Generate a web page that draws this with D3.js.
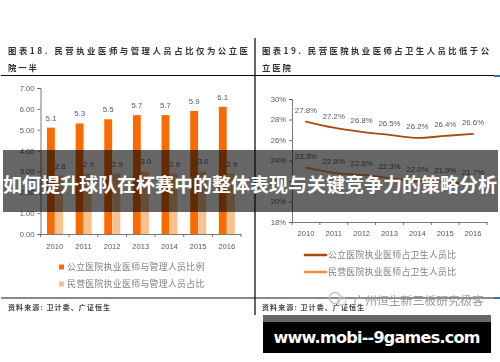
<!DOCTYPE html>
<html>
<head>
<meta charset="utf-8">
<script src="https://cdn.jsdelivr.net/npm/d3@7"></script>
<style>
html, body { margin: 0; padding: 0; background: #fff; overflow: hidden; }
text { font-family: "Noto Sans CJK SC", sans-serif; }
</style>
</head>
<body>
<div id="chart-area"></div>
<script>
var years = ["2010", "2011", "2012", "2013", "2014", "2015", "2016"];

// left chart
var publicRatio = [5.1, 5.3, 5.5, 5.7, 5.7, 5.9, 6.1];
var privateRatio = [2.8, 2.9, 2.9, 3.0, 2.9, 3.0, 2.9];
var barTicks = [0, 1, 2, 3, 4, 5, 6, 7];
var barSeries = ["公立医院执业医师与管理人员比例", "民营医院执业医师与管理人员占比"];

// right chart
var publicShare = [27.8, 27.2, 26.8, 26.5, 26.2, 26.4, 26.6];
var privateShare = [23.3, 22.8, 22.6, 22.3, 22.0, 21.9, 21.7];
var lineTicks = [18, 20, 22, 24, 26, 28, 30];
var lineSeries = ["公立医院执业医师占卫生人员比", "民营医院执业医师占卫生人员比"];

var headline = "如何提升球队在杯赛中的整体表现与关键竞争力的策略分析";
var site = "www.mobi--9games.com";

var ORANGE = "#f96b05", LIGHT = "#fbc08f", BROWN = "#a84b10", LINE2 = "#f58c3c";
var GREY = "#595959";

var svg = d3.select("#chart-area").append("svg")
	.attr("width", 500)
	.attr("height", 362)
	.style("display", "block");

svg.append("defs").append("filter")
	.attr("id", "soft")
	.append("feGaussianBlur")
	.attr("stdDeviation", 0.4);

var page = svg.append("g").attr("filter", "url(#soft)");

// frame lines
page.append("line").attr("x1", 1).attr("x2", 500).attr("y1", 75.5).attr("y2", 75.5)
	.attr("stroke", "#111").attr("stroke-width", 1.2);
page.append("line").attr("x1", 1).attr("x2", 500).attr("y1", 298).attr("y2", 298)
	.attr("stroke", "#111").attr("stroke-width", 1.2);
page.append("line").attr("x1", 255).attr("x2", 255).attr("y1", 38).attr("y2", 315)
	.attr("stroke", "#111").attr("stroke-width", 1.3);

// titles
function title(x, y, s, len) {
	var t = page.append("text")
		.attr("x", x).attr("y", y)
		.attr("font-size", 8.4)
		.attr("font-weight", 700)
		.attr("fill", "#333")
		.text(s);
	if (len) t.attr("textLength", len).attr("lengthAdjust", "spacing");
	else t.attr("letter-spacing", 1.9);
}
title(8, 54, "图表18.  民营执业医师与管理人员占比仅为公立医", 240);
title(8, 71, "院一半");
title(262, 54, "图表19.  民营医院执业医师占卫生人员比低于公", 227);
title(262, 71, "立医院");

function source(x) {
	page.append("text")
		.attr("x", x).attr("y", 310)
		.attr("font-size", 7)
		.attr("font-weight", 700)
		.attr("letter-spacing", 1.1)
		.attr("fill", "#444")
		.text("资料来源: 卫计委、广证恒生");
}
source(8);
source(262);

// left chart: bars
var x0 = d3.scaleBand().domain(years).range([40.5, 241]);
var x1 = d3.scaleBand().domain([0, 1]).range([6.5, 22.5]).paddingInner(0.04);
var yBar = d3.scaleLinear().domain([0, 7]).range([234, 88]);

var left = page.append("g");

function styleAxis(sel) {
	sel.select(".domain").attr("stroke", "#555").attr("stroke-width", 0.8);
	sel.selectAll(".tick line").attr("stroke", "#555").attr("stroke-width", 0.8);
	sel.selectAll("text").attr("fill", GREY).attr("font-size", 7.6)
		.attr("font-family", "Liberation Sans")
		.style("font-family", "'Liberation Sans', sans-serif");
}

left.append("g")
	.attr("transform", "translate(40.5,0)")
	.call(d3.axisLeft(yBar).tickValues(barTicks).tickSize(3).tickPadding(3).tickFormat(d3.format(".2f")))
	.call(styleAxis);

left.append("g")
	.attr("transform", "translate(0,234)")
	.call(d3.axisBottom(x0).tickSize(0).tickPadding(10))
	.call(styleAxis);

years.concat("end").forEach(function(d, i) {
	var px = x0.range()[0] + i * x0.step();
	left.append("line").attr("x1", px).attr("x2", px).attr("y1", 234).attr("y2", 237)
		.attr("stroke", "#555").attr("stroke-width", 0.8);
});

[publicRatio, privateRatio].forEach(function(values, s) {
	left.selectAll(".bar" + s).data(values).enter().append("rect")
		.attr("class", "bar" + s)
		.attr("x", function(d, i) { return x0(years[i]) + x1(s); })
		.attr("width", x1.bandwidth())
		.attr("y", function(d) { return yBar(d); })
		.attr("height", function(d) { return yBar(0) - yBar(d); })
		.attr("fill", s === 0 ? ORANGE : LIGHT);
	left.selectAll(".lab" + s).data(values).enter().append("text")
		.attr("class", "lab" + s)
		.attr("x", function(d, i) { return x0(years[i]) + x1(s) + x1.bandwidth() / 2 + (s === 0 ? 0 : 1); })
		.attr("y", function(d) { return yBar(d) - 7; })
		.attr("text-anchor", "middle")
		.attr("font-size", 7.8)
		.style("font-family", "'Liberation Sans', sans-serif")
		.attr("fill", GREY)
		.text(d3.format(".1f"));
});

barSeries.forEach(function(name, i) {
	var ly = yBar(0) + 33 + i * 17;
	page.append("rect").attr("x", 59).attr("y", ly - 2.5).attr("width", 5).attr("height", 5)
		.attr("fill", i === 0 ? ORANGE : LIGHT);
	page.append("text").attr("x", 67).attr("y", ly + 3)
		.attr("font-size", 8.9).attr("letter-spacing", 0.3).attr("fill", "#808080").text(name);
});

// right chart: lines
var xLine = d3.scaleBand().domain(years).range([292, 487]);
var yLine = d3.scaleLinear().domain([18, 30]).range([222, 99]);

var right = page.append("g");

right.append("g")
	.attr("transform", "translate(292,0)")
	.call(d3.axisLeft(yLine).tickValues(lineTicks).tickSize(3).tickPadding(3).tickFormat(function(d) { return d + "%"; }))
	.call(styleAxis);

right.append("g")
	.attr("transform", "translate(0,222)")
	.call(d3.axisBottom(xLine).tickSize(0).tickPadding(9))
	.call(styleAxis);

years.concat("end").forEach(function(d, i) {
	var px = xLine.range()[0] + i * xLine.step();
	right.append("line").attr("x1", px).attr("x2", px).attr("y1", 222).attr("y2", 225)
		.attr("stroke", "#555").attr("stroke-width", 0.8);
});

var line = d3.line()
	.x(function(d, i) { return xLine(years[i]) + xLine.bandwidth() / 2; })
	.y(function(d) { return yLine(d); })
	.curve(d3.curveMonotoneX);

[publicShare, privateShare].forEach(function(values, s) {
	right.append("path")
		.attr("d", line(values))
		.attr("fill", "none")
		.attr("stroke", s === 0 ? BROWN : LINE2)
		.attr("stroke-width", 1.8)
		.attr("stroke-linecap", "round");
	right.selectAll(".lab" + s).data(values).enter().append("text")
		.attr("class", "lab" + s)
		.attr("x", function(d, i) { return xLine(years[i]) + xLine.bandwidth() / 2; })
		.attr("y", function(d) { return yLine(d) - 9; })
		.attr("text-anchor", "middle")
		.attr("font-size", 7.8)
		.style("font-family", "'Liberation Sans', sans-serif")
		.attr("fill", GREY)
		.text(function(d) { return d.toFixed(1) + "%"; });
});

lineSeries.forEach(function(name, i) {
	var ly = 255 + i * 17;
	page.append("line").attr("x1", 305).attr("x2", 326).attr("y1", ly).attr("y2", ly)
		.attr("stroke", i === 0 ? BROWN : LINE2).attr("stroke-width", 2.6).attr("stroke-linecap", "round");
	page.append("text").attr("x", 328).attr("y", ly + 3)
		.attr("font-size", 8.9).attr("letter-spacing", 0.3).attr("fill", "#808080").text(name);
});

// watermark
page.append("circle").attr("cx", 335).attr("cy", 298).attr("r", 5.5)
	.attr("fill", "none").attr("stroke", "#c4c4c4").attr("stroke-width", 1.5);
page.append("circle").attr("cx", 342).attr("cy", 301).attr("r", 4)
	.attr("fill", "none").attr("stroke", "#c4c4c4").attr("stroke-width", 1.2);
page.append("text").attr("x", 353).attr("y", 305)
	.attr("font-size", 11.9).attr("fill", "#999").text("广州恒生新三板研究极客");
page.append("rect").attr("x", 494).attr("y", 297).attr("width", 6).attr("height", 2).attr("fill", "#2e75b6");
page.append("rect").attr("x", 494).attr("y", 75).attr("width", 6).attr("height", 2).attr("fill", "#2e75b6");

// headline band
svg.append("rect").attr("x", 3).attr("y", 150).attr("width", 495).attr("height", 62)
	.attr("fill", "#000").attr("fill-opacity", 0.6);
svg.append("text")
	.attr("x", 250).attr("y", 192)
	.attr("text-anchor", "middle")
	.attr("font-size", 19)
	.attr("font-weight", 700)
	.attr("textLength", 494)
	.attr("lengthAdjust", "spacing")
	.attr("fill", "#fff")
	.text(headline);

// site box
svg.append("rect").attr("x", 263).attr("y", 315).attr("width", 228).attr("height", 7).attr("fill", "#666");
svg.append("rect").attr("x", 263).attr("y", 322).attr("width", 228).attr("height", 31).attr("fill", "#000");
svg.append("text")
	.attr("x", 377).attr("y", 343)
	.attr("text-anchor", "middle")
	.attr("font-size", 16)
	.attr("font-weight", 700)
	.attr("textLength", 207)
	.attr("fill", "#fff")
	.style("font-family", "'DejaVu Sans', sans-serif")
	.text(site);
</script>
</body>
</html>
